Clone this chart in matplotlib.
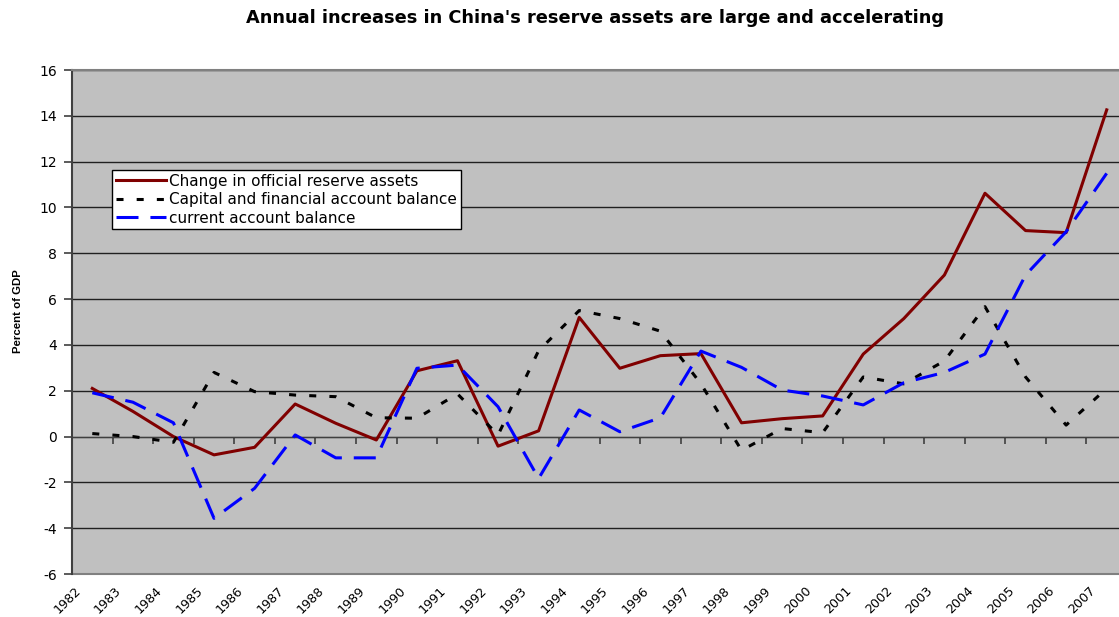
import matplotlib.pyplot as plt
import matplotlib.transforms as mtransforms

plt.rcParams['font.family'] = ['DejaVu Sans']
plt.rcParams['axes.unicode_minus'] = False

years = [str(y) for y in range(1982, 2008)]

# percent of GDP
reserve_change = [2.1, 1.1, 0.0, -0.8, -0.47, 1.42, 0.58, -0.15, 2.87, 3.31,
                  -0.42, 0.25, 5.2, 2.98, 3.53, 3.62, 0.6, 0.78, 0.9, 3.6,
                  5.15, 7.05, 10.62, 8.99, 8.9, 14.26]
capital_account = [0.13, 0.0, -0.25, 2.8, 1.96, 1.81, 1.74, 0.82, 0.8, 1.86,
                   0.07, 3.75, 5.5, 5.15, 4.6, 2.3, -0.6, 0.35, 0.17, 2.6,
                   2.3, 3.3, 5.67, 2.6, 0.5, 2.1]
current_account = [1.91, 1.5, 0.6, -3.57, -2.26, 0.07, -0.93, -0.93, 2.98, 3.12,
                   1.3, -1.83, 1.16, 0.21, 0.82, 3.73, 3.02, 2.03, 1.77, 1.38,
                   2.35, 2.8, 3.6, 7.05, 8.94, 11.49]

fig = plt.figure(figsize=(11.19, 6.17), dpi=100)
# plot area runs slightly past the right edge, as in the reference
ax = fig.add_axes([72 / 1119, 43 / 617, 1055 / 1119, 504 / 617])
ax.set_facecolor('#C0C0C0')

x = list(range(len(years)))
ax.plot(x, reserve_change, color='#800000', lw=2.2,
        label='Change in official reserve assets', zorder=3)
ax.plot(x, capital_account, color='black', lw=2.2, dashes=(2.3, 4.3),
        label='Capital and financial account balance', zorder=3)
ax.plot(x, current_account, color='#0000FF', lw=2.2, dashes=(7.2, 3.9),
        label='current account balance', zorder=3)

ax.set_xlim(-0.5, len(years) - 0.5)
ax.set_ylim(-6, 16)
ax.set_yticks(range(-6, 17, 2))
ax.yaxis.grid(True, color='#202020', lw=1)
ax.set_axisbelow(True)

# category axis crosses at zero, ticks on category boundaries
ax.spines['bottom'].set_position(('data', 0))
ax.spines['bottom'].set_color('#404040')
ax.spines['left'].set_color('#404040')
ax.spines['left'].set_linewidth(1.5)
ax.spines['top'].set_color('#808080')
ax.spines['top'].set_linewidth(1.5)
ax.spines['right'].set_visible(False)
ax.set_xticks([i - 0.5 for i in x])
ax.set_xticklabels([])
ax.tick_params(axis='x', direction='out', length=5, color='#404040', width=1.2)
ax.tick_params(axis='y', direction='out', length=6, color='#404040',
               width=1.2, pad=5, labelsize=10)
ax.axhline(-6, color='#808080', lw=1.5, clip_on=False)

# year labels below the plot area
trans = ax.get_xaxis_transform() + mtransforms.ScaledTranslation(
    -18 / 100, -10 / 100, fig.dpi_scale_trans)
for i, lab in enumerate(years):
    ax.text(i, 0, lab, transform=trans, rotation=45, rotation_mode='anchor',
            ha='right', va='top', fontsize=9.2)

ax.set_ylabel('Percent of GDP', fontsize=8.2, fontweight='bold',
              family='Liberation Sans')
ax.yaxis.set_label_coords(-49 / 1055, 263 / 504)
fig.suptitle("Annual increases in China's reserve assets are large and accelerating",
             x=595 / 1119, y=1 - 18 / 617, va='center', fontsize=12.8,
             fontweight='bold')

leg = ax.legend(loc='upper left', bbox_to_anchor=(40 / 1055, 404 / 504),
                fontsize=11, frameon=True, fancybox=False, framealpha=1,
                edgecolor='black', borderpad=0.25, borderaxespad=0,
                handlelength=3.3, handletextpad=0.2, labelspacing=0.22)
leg.get_frame().set_linewidth(1)

plt.savefig('out.png', dpi=100)
